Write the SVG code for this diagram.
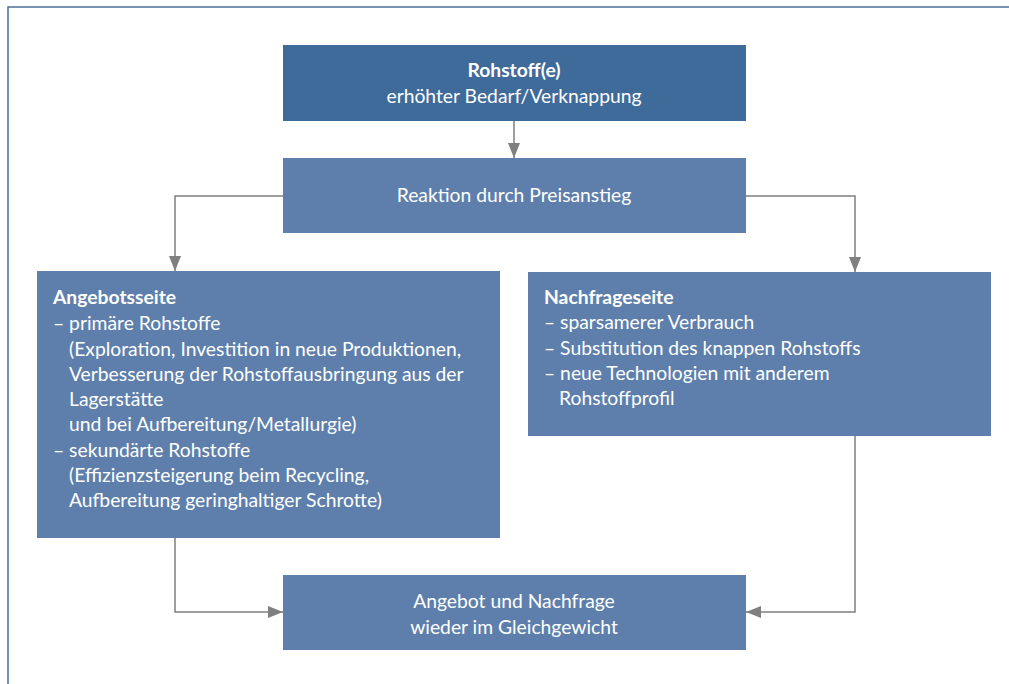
<svg xmlns="http://www.w3.org/2000/svg" width="1009" height="684" viewBox="0 0 1009 684">
<defs>
<marker id="ah" markerWidth="15" markerHeight="12" refX="15" refY="6" orient="auto" markerUnits="userSpaceOnUse" viewBox="0 0 15 12">
<path d="M0,0 L15,6 L0,12 z" fill="#7f7f7f"/>
</marker>
<style>
.box{fill:#5e7fab}
.dark{fill:#3f6b9b}
text{font-family:Lato,"Open Sans","Liberation Sans",sans-serif;font-size:19.3px;fill:#ffffff}
.c{text-anchor:middle}
.b{font-weight:bold}
.ln{fill:none;stroke:#7f7f7f;stroke-width:1.5}
</style>
</defs>
<rect width="1009" height="684" fill="#ffffff"/>
<path d="M8,684 V7 H1009" fill="none" stroke="#4a6f9a" stroke-width="1.5"/>
<g id="connectors">
<path class="ln" d="M514,121 V158" marker-end="url(#ah)"/>
<path class="ln" d="M283,196 H175 V271" marker-end="url(#ah)"/>
<path class="ln" d="M746,196 H855 V272" marker-end="url(#ah)"/>
<path class="ln" d="M175,538 V612 H283" marker-end="url(#ah)"/>
<path class="ln" d="M855,436 V612 H746" marker-end="url(#ah)"/>
</g>
<g id="n1">
<rect class="dark" x="283" y="45" width="463" height="76"/>
<text class="c b" x="514" y="77">Rohstoff(e)</text>
<text class="c" x="514" y="103">erhöhter Bedarf/Verknappung</text>
</g>
<g id="n2">
<rect class="box" x="283" y="158" width="463" height="75"/>
<text class="c" x="514" y="202">Reaktion durch Preisanstieg</text>
</g>
<g id="n3">
<rect class="box" x="37" y="271" width="463" height="267"/>
<text class="b" x="53" y="304">Angebotsseite</text>
<text x="53" y="330">– primäre Rohstoffe</text>
<text x="69" y="356">(Exploration, Investition in neue Produktionen,</text>
<text x="69" y="381">Verbesserung der Rohstoffausbringung aus der</text>
<text x="69" y="406">Lagerstätte</text>
<text x="69" y="431">und bei Aufbereitung/Metallurgie)</text>
<text x="53" y="457">– sekundärte Rohstoffe</text>
<text x="69" y="482">(Effizienzsteigerung beim Recycling,</text>
<text x="69" y="507">Aufbereitung geringhaltiger Schrotte)</text>
</g>
<g id="n4">
<rect class="box" x="528" y="272" width="463" height="164"/>
<text class="b" x="544" y="304">Nachfrageseite</text>
<text x="544" y="329">– sparsamerer Verbrauch</text>
<text x="544" y="355">– Substitution des knappen Rohstoffs</text>
<text x="544" y="380">– neue Technologien mit anderem</text>
<text x="559" y="405">Rohstoffprofil</text>
</g>
<g id="n5">
<rect class="box" x="283" y="575" width="463" height="75"/>
<text class="c" x="514" y="608">Angebot und Nachfrage</text>
<text class="c" x="514" y="634">wieder im Gleichgewicht</text>
</g>
</svg>
